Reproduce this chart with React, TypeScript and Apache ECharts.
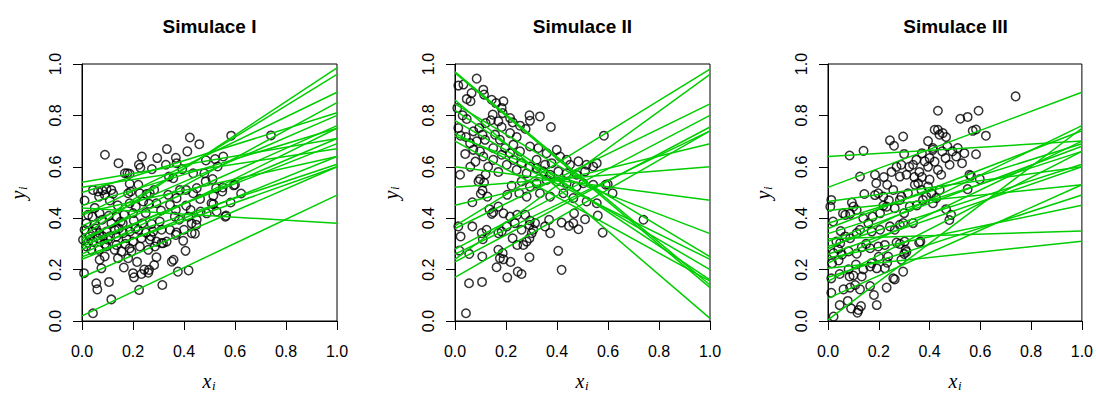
import React, { useEffect, useRef } from 'react';
import * as echarts from 'echarts';

const TITLES = ['Simulace I', 'Simulace II', 'Simulace III'];
const TICKS = [0, 0.2, 0.4, 0.6, 0.8, 1.0];

const P1_POINTS: number[][] = [
  [0.043,0.03],[0.115,0.084],[0.106,0.152],[0.056,0.147],[0.06,0.123],[0.224,0.121],[0.315,0.14],[0.008,0.186],[0.076,0.205],[0.164,0.208],
  [0.2,0.186],[0.204,0.17],[0.233,0.183],[0.26,0.188],[0.263,0.199],[0.244,0.2],[0.216,0.23],[0.283,0.218],[0.292,0.248],[0.352,0.231],
  [0.359,0.238],[0.376,0.192],[0.418,0.197],[0.406,0.273],[0.397,0.312],[0.443,0.34],[0.448,0.374],[0.562,0.406],[0.565,0.41],[0.583,0.461],
  [0.595,0.528],[0.6,0.53],[0.624,0.496],[0.585,0.721],[0.741,0.722],[0.09,0.647],[0.143,0.614],[0.423,0.714],[0.46,0.688],[0.333,0.669],
  [0.235,0.64],[0.295,0.634],[0.223,0.608],[0.229,0.596],[0.413,0.66],[0.368,0.635],[0.371,0.614],[0.274,0.591],[0.329,0.608],[0.393,0.591],
  [0.486,0.625],[0.522,0.63],[0.554,0.64],[0.532,0.601],[0.168,0.575],[0.187,0.573],[0.178,0.575],[0.187,0.534],[0.221,0.53],[0.341,0.562],
  [0.358,0.556],[0.436,0.575],[0.48,0.575],[0.485,0.543],[0.512,0.552],[0.552,0.52],
  [0.043,0.51],[0.063,0.504],[0.08,0.508],[0.096,0.513],[0.115,0.51],[0.122,0.495],[0.01,0.469],[0.067,0.484],[0.089,0.491],[0.109,0.469],
  [0.181,0.497],[0.191,0.504],[0.227,0.497],[0.253,0.494],[0.266,0.497],[0.283,0.51],[0.187,0.458],[0.211,0.445],[0.24,0.465],[0.263,0.456],
  [0.292,0.458],[0.338,0.491],[0.371,0.478],[0.384,0.51],[0.408,0.51],[0.436,0.497],[0.45,0.517],[0.515,0.487],[0.55,0.504],[0.526,0.517],
  [0.463,0.475],[0.508,0.458],[0.515,0.455],[0.345,0.452],[0.368,0.432],[0.408,0.449],[0.426,0.432],[0.465,0.426],[0.489,0.419],[0.528,0.426],
  [0.024,0.413],[0.041,0.406],[0.069,0.419],[0.105,0.409],[0.135,0.406],[0.165,0.413],[0.017,0.38],[0.05,0.374],[0.079,0.394],[0.115,0.38],
  [0.152,0.387],[0.203,0.391],[0.237,0.38],[0.273,0.378],[0.305,0.387],[0.364,0.406],[0.381,0.394],[0.417,0.406],[0.43,0.38],[0.45,0.394],
  [0.01,0.355],[0.041,0.348],[0.069,0.342],[0.096,0.348],[0.129,0.355],[0.162,0.342],[0.188,0.348],[0.221,0.355],[0.251,0.344],[0.279,0.348],
  [0.312,0.355],[0.345,0.355],[0.371,0.344],[0.4,0.355],[0.43,0.342],[0.368,0.335],
  [0.004,0.316],[0.024,0.305],[0.043,0.309],[0.063,0.322],[0.082,0.329],[0.102,0.316],[0.135,0.329],[0.174,0.322],[0.2,0.309],[0.233,0.322],
  [0.266,0.316],[0.292,0.309],[0.318,0.303],
  [0.017,0.29],[0.037,0.277],[0.067,0.277],[0.096,0.29],[0.128,0.277],[0.155,0.27],[0.187,0.283],[0.227,0.29],[0.26,0.277],[0.286,0.29],
  [0.312,0.303],[0.332,0.309],
  [0.069,0.238],[0.089,0.251],[0.141,0.244],[0.181,0.244],[0.194,0.27],[0.135,0.296],[0.145,0.36],[0.16,0.38],[0.03,0.33],[0.25,0.42],
  [0.31,0.43],[0.2,0.42],[0.11,0.33],[0.055,0.36],[0.09,0.3],[0.21,0.36],[0.27,0.33],[0.17,0.3],[0.05,0.44],[0.14,0.45]
];

const P2_POINTS: number[][] = [
  [0.085,0.943],[0.013,0.916],[0.033,0.92],[0.046,0.864],[0.111,0.9],[0.114,0.881],[0.065,0.887],[0.061,0.855],[0.19,0.855],[0.144,0.861],
  [0.161,0.848],[0.183,0.829],[0.187,0.809],[0.009,0.829],[0.046,0.786],[0.148,0.803],[0.141,0.781],[0.17,0.777],[0.183,0.755],[0.216,0.79],
  [0.226,0.773],[0.292,0.8],[0.294,0.779],[0.333,0.796],[0.376,0.755],[0.277,0.747],[0.255,0.76],[0.013,0.751],[0.022,0.721],[0.043,0.716],
  [0.072,0.738],[0.095,0.751],[0.108,0.725],[0.059,0.692],[0.085,0.699],[0.118,0.705],[0.157,0.725],[0.176,0.705],[0.216,0.731],[0.242,0.716],
  [0.229,0.686],[0.196,0.673],[0.15,0.673],[0.098,0.66],[0.072,0.666],[0.111,0.64],[0.15,0.627],[0.183,0.647],[0.216,0.653],[0.255,0.66],
  [0.294,0.679],[0.327,0.673],[0.359,0.653],[0.399,0.666],[0.32,0.627],[0.353,0.608],[0.379,0.614],[0.412,0.64],[0.438,0.627],[0.451,0.608],
  [0.484,0.621],[0.516,0.608],[0.556,0.614],[0.542,0.601],[0.294,0.601],[0.261,0.614],[0.229,0.627],[0.203,0.608],[0.242,0.588],[0.281,0.575],
  [0.32,0.595],[0.346,0.582],[0.373,0.569],[0.405,0.582],[0.438,0.575],[0.477,0.569],[0.51,0.582],[0.503,0.536],[0.542,0.53],[0.477,0.523],
  [0.438,0.536],[0.399,0.543],[0.359,0.549],[0.32,0.536],[0.294,0.523],[0.261,0.543],[0.222,0.526],[0.205,0.491],[0.252,0.497],[0.281,0.484],
  [0.333,0.497],[0.373,0.484],[0.425,0.497],[0.464,0.478],[0.516,0.465],[0.556,0.458],[0.02,0.569],[0.092,0.543],[0.098,0.552],[0.114,0.539],
  [0.127,0.484],[0.101,0.495],[0.108,0.508],[0.068,0.462],[0.135,0.435],[0.144,0.417],[0.15,0.423],[0.17,0.445],[0.19,0.419],[0.216,0.406],
  [0.244,0.413],[0.275,0.413],[0.294,0.391],[0.292,0.374],[0.307,0.355],[0.301,0.342],[0.292,0.322],[0.281,0.309],[0.268,0.296],[0.244,0.296],
  [0.226,0.322],[0.203,0.368],[0.235,0.381],[0.261,0.355],[0.314,0.381],[0.017,0.274],[0.056,0.261],[0.107,0.251],[0.022,0.329],[0.013,0.368],
  [0.068,0.368],[0.105,0.342],[0.109,0.318],[0.124,0.355],[0.17,0.342],[0.183,0.348],[0.353,0.368],[0.373,0.342],[0.369,0.394],[0.418,0.383],
  [0.447,0.37],[0.464,0.381],[0.467,0.419],[0.484,0.357],[0.51,0.396],[0.56,0.41],[0.579,0.344],[0.739,0.394],[0.584,0.721],[0.618,0.497],
  [0.599,0.532],[0.591,0.53],[0.043,0.03],[0.055,0.147],[0.106,0.152],[0.205,0.169],[0.246,0.192],[0.261,0.183],[0.163,0.209],[0.176,0.244],
  [0.19,0.24],[0.17,0.277],[0.187,0.264],[0.218,0.23],[0.418,0.199],[0.405,0.273],[0.292,0.248],
  [0.03,0.8],[0.12,0.77],[0.08,0.62],[0.13,0.6],[0.04,0.65],[0.17,0.58],[0.12,0.57],[0.06,0.6]
];

const P3_POINTS: number[][] = [
  [0.022,0.017],[0.046,0.062],[0.078,0.078],[0.091,0.049],[0.12,0.043],[0.116,0.032],[0.13,0.058],[0.192,0.062],[0.013,0.11],[0.061,0.123],
  [0.087,0.13],[0.107,0.14],[0.126,0.123],[0.166,0.136],[0.181,0.101],[0.231,0.13],[0.257,0.166],[0.263,0.162],[0.296,0.192],
  [0.013,0.166],[0.046,0.183],[0.085,0.173],[0.1,0.177],[0.133,0.173],
  [0.081,0.201],[0.139,0.201],[0.166,0.212],[0.172,0.225],[0.192,0.205],[0.224,0.205],
  [0.237,0.251],[0.233,0.227],[0.289,0.238],[0.3,0.261],[0.309,0.269],[0.306,0.277],
  [0.016,0.225],[0.042,0.236],[0.022,0.264],[0.055,0.258],[0.081,0.271],[0.113,0.262],[0.133,0.287],[0.166,0.283],[0.198,0.29],[0.224,0.296],
  [0.27,0.305],[0.283,0.3],[0.302,0.309],
  [0.033,0.309],[0.048,0.303],[0.068,0.329],[0.087,0.322],[0.113,0.342],[0.126,0.355],[0.172,0.348],[0.205,0.355],[0.244,0.368],[0.263,0.355],
  [0.283,0.374],[0.296,0.381],[0.335,0.381],[0.359,0.305],[0.364,0.309],
  [0.02,0.387],[0.059,0.419],[0.068,0.413],[0.087,0.417],[0.1,0.445],[0.113,0.432],[0.139,0.4],[0.159,0.38],[0.176,0.406],[0.205,0.419],
  [0.218,0.449],[0.231,0.445],[0.263,0.439],[0.283,0.471],[0.322,0.445],[0.013,0.471],[0.009,0.445],[0.094,0.461],
  [0.143,0.494],[0.185,0.49],[0.198,0.497],[0.218,0.484],[0.233,0.53],[0.257,0.51],[0.289,0.484],[0.315,0.497],[0.342,0.53],[0.355,0.536],
  [0.368,0.51],[0.374,0.471],[0.387,0.484],[0.394,0.523],[0.407,0.497],[0.413,0.458],[0.426,0.478],
  [0.126,0.562],[0.085,0.644],[0.14,0.662],[0.185,0.569],[0.19,0.536],[0.244,0.703],[0.26,0.682],[0.296,0.718],
  [0.3,0.65],[0.289,0.608],[0.283,0.562],[0.309,0.569],[0.335,0.608],[0.348,0.627],[0.37,0.653],[0.381,0.621],[0.394,0.6],[0.4,0.634],
  [0.413,0.666],[0.433,0.588],[0.446,0.569],[0.463,0.634],[0.479,0.608],[0.505,0.64],[0.511,0.673],[0.528,0.614],[0.537,0.653],[0.557,0.569],
  [0.563,0.565],[0.394,0.7],[0.413,0.673],[0.42,0.744],[0.433,0.744],[0.439,0.725],[0.452,0.731],[0.465,0.716],
  [0.433,0.818],[0.521,0.787],[0.55,0.794],[0.593,0.818],[0.739,0.874],[0.57,0.74],[0.583,0.745],[0.622,0.721],[0.583,0.649],
  [0.55,0.513],[0.44,0.51],[0.465,0.435],[0.485,0.413],[0.478,0.393],[0.598,0.552],
  [0.25,0.58],[0.27,0.6],[0.32,0.6],[0.36,0.58],[0.34,0.56],[0.22,0.56],[0.24,0.47],[0.3,0.42],[0.35,0.45],[0.37,0.56],
  [0.4,0.55],[0.42,0.62],[0.45,0.66],[0.47,0.68],[0.49,0.66],[0.05,0.35],[0.15,0.3],[0.2,0.25],[0.11,0.22],[0.04,0.28]
];

// fitted lines: [value at x = 0, value at x = 1]
const P1_LINES: number[][] = [
  [0.02,0.49],[0.44,0.38],[0.54,0.71],[0.52,0.67],[0.50,0.81],[0.45,0.75],[0.42,0.64],[0.41,0.89],[0.37,0.80],[0.35,0.96],
  [0.33,0.985],[0.32,0.76],[0.31,0.85],[0.30,0.69],[0.29,0.71],[0.28,0.61],[0.26,0.75],[0.25,0.60],[0.24,0.64],[0.17,0.60]
];
const P2_LINES: number[][] = [
  [0.97,0.14],[0.965,0.13],[0.86,0.01],[0.845,0.25],[0.82,0.16],[0.78,0.20],[0.73,0.24],[0.72,0.34],[0.70,0.155],[0.60,0.47],
  [0.52,0.60],[0.45,0.69],[0.37,0.98],[0.36,0.845],[0.28,0.80],[0.24,0.96],[0.23,0.755],[0.17,0.74],[0.26,0.74]
];
const P3_LINES: number[][] = [
  [0.64,0.70],[0.52,0.89],[0.465,0.60],[0.43,0.53],[0.38,0.69],[0.36,0.74],[0.34,0.66],[0.32,0.35],[0.31,0.68],[0.29,0.61],
  [0.28,0.76],[0.26,0.60],[0.245,0.45],[0.225,0.70],[0.205,0.31],[0.17,0.49],[0.155,0.66],[0.088,0.53],[0.004,0.75]
];

const POINTS = [P1_POINTS, P2_POINTS, P3_POINTS];
const LINES = [P1_LINES, P2_LINES, P3_LINES];

const GRID_LEFT = [82, 455, 828];
const GRID_TOP = 64;
const GRID_W = 255;
const GRID_H = 257;
const Y_TITLE_X = [18, 390.7, 763.4];

const SANS = 'Liberation Sans, Arial, sans-serif';
const SERIF = 'Liberation Serif, Times New Roman, serif';

export default function App() {
  const ref = useRef<HTMLDivElement>(null);
  useEffect(() => {
    const chart = echarts.init(ref.current as HTMLDivElement, undefined, { renderer: 'svg', width: 1096, height: 394 });
    const grids: any[] = [];
    const xAxes: any[] = [];
    const yAxes: any[] = [];
    const series: any[] = [];
    const graphics: any[] = [];
    for (let p = 0; p < 3; p++) {
      grids.push({
        left: GRID_LEFT[p], top: GRID_TOP, width: GRID_W, height: GRID_H,
        show: true, borderColor: '#000', borderWidth: 1, backgroundColor: 'transparent', containLabel: false,
      });
      const common = {
        type: 'value', min: TICKS[0], max: TICKS[TICKS.length - 1], interval: 0.2,
        gridIndex: p,
        splitLine: { show: false },
        axisLine: { show: true, lineStyle: { color: '#000', width: 1 } },
        axisTick: { show: true, inside: false, length: 9, lineStyle: { color: '#000', width: 1 } },
      };
      xAxes.push({
        ...common,
        axisLabel: { show: true, margin: 22, fontSize: 16, color: '#000', fontFamily: SANS, formatter: (v: number) => v.toFixed(1) },
      });
      yAxes.push({
        ...common,
        axisLabel: { show: true, rotate: 90, margin: 19, fontSize: 16, color: '#000', fontFamily: SANS, formatter: (v: number) => v.toFixed(1) },
      });
      series.push({
        type: 'scatter', xAxisIndex: p, yAxisIndex: p, data: POINTS[p], symbol: 'circle', symbolSize: 8.5,
        itemStyle: { color: 'rgba(0,0,0,0)', borderColor: '#000', borderWidth: 1.5 }, silent: true, z: 2,
      });
      LINES[p].forEach((l) => {
        series.push({
          type: 'line', xAxisIndex: p, yAxisIndex: p, data: [[0, l[0]], [1, l[1]]], symbol: 'none',
          lineStyle: { color: '#00CD00', width: 1.5 }, silent: true, z: 3,
        });
      });
      const cx = GRID_LEFT[p] + GRID_W / 2;
      graphics.push({
        type: 'text', x: cx, y: 26.5,
        style: { text: TITLES[p], align: 'center', verticalAlign: 'middle', textAlign: 'center', textVerticalAlign: 'middle',
          font: `bold 19px ${SANS}`, fill: '#000' },
      });
      graphics.push({
        type: 'group', x: cx, y: 381,
        children: [
          { type: 'text', x: 2, y: 0, style: { text: 'x', align: 'right', verticalAlign: 'middle', textAlign: 'right', textVerticalAlign: 'middle', font: `italic 20px ${SERIF}`, fill: '#000' } },
          { type: 'text', x: 2.5, y: 4, style: { text: 'i', align: 'left', verticalAlign: 'middle', textAlign: 'left', textVerticalAlign: 'middle', font: `italic 13px ${SERIF}`, fill: '#000' } },
        ],
      });
      graphics.push({
        type: 'group', x: Y_TITLE_X[p], y: GRID_TOP + GRID_H / 2, rotation: Math.PI / 2,
        children: [
          { type: 'text', x: 2, y: 0, style: { text: 'y', align: 'right', verticalAlign: 'middle', textAlign: 'right', textVerticalAlign: 'middle', font: `italic 20px ${SERIF}`, fill: '#000' } },
          { type: 'text', x: 2.5, y: 4, style: { text: 'i', align: 'left', verticalAlign: 'middle', textAlign: 'left', textVerticalAlign: 'middle', font: `italic 13px ${SERIF}`, fill: '#000' } },
        ],
      });
    }
    chart.setOption({
      animation: false,
      backgroundColor: '#fff',
      grid: grids,
      xAxis: xAxes,
      yAxis: yAxes,
      series,
      graphic: graphics,
    });
    return () => chart.dispose();
  }, []);
  return <div ref={ref} style={{ position: 'absolute', left: 0, top: 0, width: 1096, height: 394 }} />;
}
